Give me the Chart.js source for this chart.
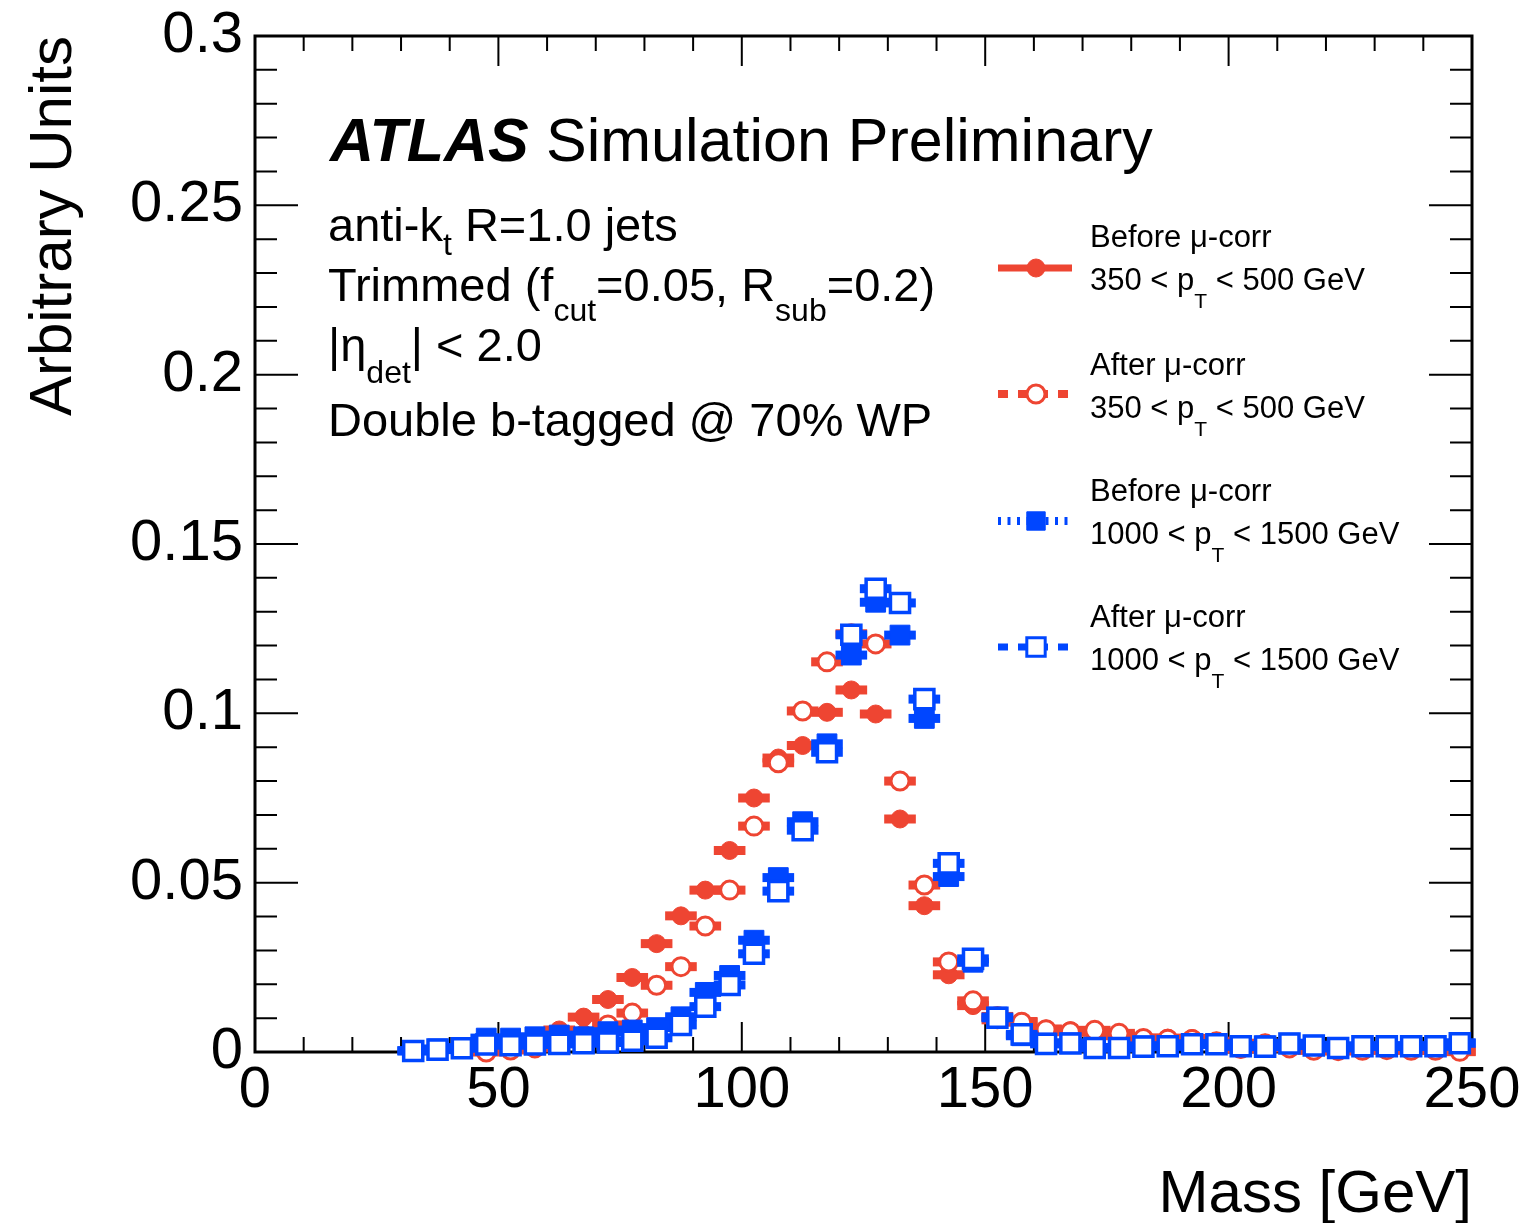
<!DOCTYPE html>
<html>
<head>
<meta charset="utf-8">
<script src="https://cdn.jsdelivr.net/npm/chart.js@4.4.1/dist/chart.umd.min.js"></script>
<style>
  html, body { margin: 0; padding: 0; background: #fff; }
  #wrap { position: relative; width: 1530px; height: 1223px; font-family: "Liberation Sans", Arial, sans-serif; color: #000; }
  #wrap canvas { position: absolute; left: 0; top: 0; }
  .t { position: absolute; white-space: nowrap; line-height: 1; }
  .sub { position: relative; }
</style>
</head>
<body>
<div id="wrap">
  <canvas id="massChart" width="1530" height="1223"></canvas>

  <div class="t" style="left:21px; top:536px; width:500px; text-align:right; font-size:60px; transform:rotate(-90deg); transform-origin:left top;">Arbitrary Units</div>
  <div class="t" style="left:972px; top:1162px; width:500px; text-align:right; font-size:60px;">Mass [GeV]</div>

  <div class="t" style="left:330px; top:110px; font-size:61px;"><b><i>ATLAS</i></b></div>
  <div class="t" style="left:546px; top:110px; font-size:61px;">Simulation Preliminary</div>
  <div class="t" style="left:328px; top:201px; font-size:47px;">anti-k<span class="sub" style="font-size:32px; top:14px;">t</span> R=1.0 jets</div>
  <div class="t" style="left:328px; top:261px; font-size:47px;">Trimmed (f<span class="sub" style="font-size:32px; top:20px;">cut</span>=0.05, R<span class="sub" style="font-size:32px; top:20px;">sub</span>=0.2)</div>
  <div class="t" style="left:328px; top:321px; font-size:47px;">|η<span class="sub" style="font-size:32px; top:22px;">det</span>| &lt; 2.0</div>
  <div class="t" style="left:328px; top:396px; font-size:47px;">Double b-tagged @ 70% WP</div>

  <div class="t" style="left:1090px; top:221px; font-size:31px;">Before μ-corr</div>
  <div class="t" style="left:1090px; top:264px; font-size:31px;">350 &lt; p<span class="sub" style="font-size:21px; top:18px;">T</span> &lt; 500 GeV</div>
  <div class="t" style="left:1090px; top:349px; font-size:31px;">After μ-corr</div>
  <div class="t" style="left:1090px; top:392px; font-size:31px;">350 &lt; p<span class="sub" style="font-size:21px; top:18px;">T</span> &lt; 500 GeV</div>
  <div class="t" style="left:1090px; top:475px; font-size:31px;">Before μ-corr</div>
  <div class="t" style="left:1090px; top:518px; font-size:31px;">1000 &lt; p<span class="sub" style="font-size:21px; top:18px;">T</span> &lt; 1500 GeV</div>
  <div class="t" style="left:1090px; top:601px; font-size:31px;">After μ-corr</div>
  <div class="t" style="left:1090px; top:644px; font-size:31px;">1000 &lt; p<span class="sub" style="font-size:21px; top:18px;">T</span> &lt; 1500 GeV</div>
</div>

<script>
// bin centres [GeV], 5 GeV bins
const massBins = [32.5, 37.5, 42.5, 47.5, 52.5, 57.5, 62.5, 67.5, 72.5, 77.5, 82.5, 87.5, 92.5, 97.5,
  102.5, 107.5, 112.5, 117.5, 122.5, 127.5, 132.5, 137.5, 142.5, 147.5, 152.5, 157.5, 162.5, 167.5,
  172.5, 177.5, 182.5, 187.5, 192.5, 197.5, 202.5, 207.5, 212.5, 217.5, 222.5, 227.5, 232.5, 237.5,
  242.5, 247.5];

// 350 < pT < 500 GeV, before mu-corr
const lowPtBefore = [null, null, null, 0.0002, 0.0018, 0.003, 0.0065, 0.0103, 0.0155, 0.022, 0.032,
  0.0402, 0.0478, 0.0595, 0.075, 0.0868, 0.0905, 0.1003, 0.1069, 0.0998, 0.0688, 0.0432, 0.0228,
  0.0137, 0.0095, 0.009, 0.0068, 0.0063, 0.0058, 0.0048, 0.0041, 0.0041, 0.004, 0.0032, 0.0009,
  0.0026, 0.0013, 0.0006, 0.0003, 0.0006, 0.0008, 0.0006, 0.0006, 0.0001];

// 350 < pT < 500 GeV, after mu-corr
const lowPtAfter = [null, null, null, 0.0, 0.0006, 0.0012, 0.003, 0.005, 0.008, 0.0115, 0.0197,
  0.0252, 0.0372, 0.0478, 0.0667, 0.0854, 0.1007, 0.1152, 0.1235, 0.1205, 0.080, 0.0493, 0.0266,
  0.0151, 0.0105, 0.0088, 0.0066, 0.006, 0.0064, 0.0055, 0.004, 0.0038, 0.0037, 0.003, 0.001,
  0.0024, 0.0012, 0.0005, 0.0004, 0.0005, 0.0007, 0.0005, 0.0005, 0.0002];

// 1000 < pT < 1500 GeV, before mu-corr
const highPtBefore = [0.0004, 0.0009, 0.0013, 0.0041, 0.0041, 0.0045, 0.005, 0.0045, 0.006, 0.0065,
  0.0072, 0.0104, 0.0176, 0.0226, 0.033, 0.0515, 0.068, 0.091, 0.1172, 0.1328, 0.1231, 0.0985,
  0.0518, 0.0265, 0.0103, 0.0048, 0.0026, 0.0027, 0.0013, 0.0013, 0.0018, 0.0018, 0.0024, 0.0024,
  0.0018, 0.0018, 0.0026, 0.002, 0.0013, 0.0018, 0.0018, 0.0018, 0.0018, 0.0027];

// 1000 < pT < 1500 GeV, after mu-corr
const highPtAfter = [0.0003, 0.0007, 0.0011, 0.0022, 0.002, 0.0022, 0.0024, 0.0026, 0.0028, 0.0033,
  0.0042, 0.008, 0.0134, 0.0198, 0.029, 0.0475, 0.0655, 0.0885, 0.1232, 0.1368, 0.1326, 0.1042,
  0.0557, 0.0275, 0.0101, 0.0052, 0.0024, 0.0025, 0.0012, 0.0012, 0.0016, 0.0017, 0.0023, 0.0023,
  0.0017, 0.0016, 0.0025, 0.0019, 0.0012, 0.0017, 0.0017, 0.0017, 0.0017, 0.0026];

const xTicks = [0, 50, 100, 150, 200, 250];
const yTicks = [0, 0.05, 0.1, 0.15, 0.2, 0.25, 0.3];

const RED = '#ee4532';
const BLUE = '#0046ff';
const FONT = '"Liberation Sans", Arial, sans-serif';

const toPoints = arr => massBins.map((m, i) => ({x: m, y: arr[i]})).filter(p => p.y !== null);

// horizontal bars (bin width) under each marker
const xErrHalf = 3.25;
const errorBars = {
  id: 'errorBars',
  beforeDatasetDraw(chart, args) {
    const ds = chart.data.datasets[args.index];
    const xs = chart.scales.x, ys = chart.scales.y;
    const ctx = chart.ctx;
    ctx.save();
    ctx.fillStyle = ds.borderColor;
    ds.data.forEach(p => {
      const x0 = xs.getPixelForValue(p.x - xErrHalf);
      const x1 = xs.getPixelForValue(p.x + xErrHalf);
      const y = ys.getPixelForValue(p.y);
      ctx.fillRect(x0, y - 4.5, x1 - x0, 9);
    });
    ctx.restore();
  }
};

// ROOT style frame with inner ticks
const frame = {
  id: 'frame',
  beforeDatasetsDraw(chart) {
    const {ctx, chartArea: a} = chart;
    const xs = chart.scales.x, ys = chart.scales.y;
    ctx.save();
    ctx.strokeStyle = '#000';
    ctx.lineWidth = 2;
    ctx.beginPath();
    for (let i = 0; i <= 25; i++) {
      const px = xs.getPixelForValue(i * 10);
      const len = i % 5 === 0 ? 30 : 15;
      ctx.moveTo(px, a.bottom); ctx.lineTo(px, a.bottom - len);
      ctx.moveTo(px, a.top); ctx.lineTo(px, a.top + len);
    }
    for (let i = 0; i <= 30; i++) {
      const py = ys.getPixelForValue(i / 100);
      const len = i % 5 === 0 ? 43 : 22;
      ctx.moveTo(a.left, py); ctx.lineTo(a.left + len, py);
      ctx.moveTo(a.right, py); ctx.lineTo(a.right - len, py);
    }
    ctx.stroke();
    ctx.lineWidth = 3;
    ctx.strokeRect(a.left, a.top, a.right - a.left, a.bottom - a.top);
    ctx.restore();
  }
};

// legend samples (text is HTML)
const legendRows = [
  {y: 268, color: RED, dash: [], lw: 7, style: 'circle', r: 9, fill: RED},
  {y: 394, color: RED, dash: [10, 10], lw: 8, style: 'circle', r: 9, fill: '#fff'},
  {y: 521, color: BLUE, dash: [3, 6.5], lw: 8, style: 'rect', r: 13, fill: BLUE},
  {y: 647, color: BLUE, dash: [10, 10], lw: 7, style: 'rect', r: 13, fill: '#fff'}
];
const legendSymbols = {
  id: 'legendSymbols',
  afterDraw(chart) {
    const ctx = chart.ctx;
    legendRows.forEach(row => {
      ctx.save();
      ctx.strokeStyle = row.color;
      ctx.lineWidth = row.lw;
      ctx.setLineDash(row.dash);
      ctx.beginPath();
      ctx.moveTo(998, row.y); ctx.lineTo(1072, row.y);
      ctx.stroke();
      ctx.setLineDash([]);
      ctx.fillStyle = row.fill;
      ctx.lineWidth = row.fill === '#fff' ? 3 : 1;
      Chart.helpers.drawPoint(ctx, {pointStyle: row.style, radius: row.r, borderWidth: ctx.lineWidth, rotation: 0}, 1036, row.y);
      ctx.restore();
    });
  }
};

const ctx = document.getElementById('massChart').getContext('2d');
new Chart(ctx, {
  type: 'scatter',
  data: {
    datasets: [
      {label: 'Before mu-corr 350<pT<500', data: toPoints(lowPtBefore), order: 4, pointStyle: 'circle',
        pointRadius: 9, borderWidth: 1, borderColor: RED, backgroundColor: RED, clip: false},
      {label: 'After mu-corr 350<pT<500', data: toPoints(lowPtAfter), order: 3, pointStyle: 'circle',
        pointRadius: 9, borderWidth: 3, borderColor: RED, backgroundColor: '#fff', clip: false},
      {label: 'Before mu-corr 1000<pT<1500', data: toPoints(highPtBefore), order: 2, pointStyle: 'rect',
        pointRadius: 14, borderWidth: 1, borderColor: BLUE, backgroundColor: BLUE, clip: false},
      {label: 'After mu-corr 1000<pT<1500', data: toPoints(highPtAfter), order: 1, pointStyle: 'rect',
        pointRadius: 13.5, borderWidth: 3.5, borderColor: BLUE, backgroundColor: '#fff', clip: false}
    ]
  },
  options: {
    responsive: false,
    animation: false,
    devicePixelRatio: 1,
    layout: {padding: {top: 36, right: 58, left: 0, bottom: 0}},
    plugins: {legend: {display: false}, tooltip: {enabled: false}},
    elements: {point: {hoverRadius: 9}},
    scales: {
      x: {
        type: 'linear', min: 0, max: 250,
        afterBuildTicks: s => { s.ticks = xTicks.map(v => ({value: v})); },
        afterFit: s => { s.height = 171; s.paddingLeft = 0; s.paddingRight = 0; },
        grid: {display: false, drawTicks: false},
        border: {display: false},
        ticks: {font: {family: FONT, size: 58}, color: '#000', padding: 4, maxRotation: 0, autoSkip: false}
      },
      y: {
        type: 'linear', min: 0, max: 0.3,
        afterBuildTicks: s => { s.ticks = yTicks.map(v => ({value: v})); },
        afterFit: s => { s.width = 255; s.paddingTop = 0; s.paddingBottom = 0; },
        grid: {display: false, drawTicks: false},
        border: {display: false},
        ticks: {font: {family: FONT, size: 58}, color: '#000', padding: 12, autoSkip: false,
          callback: v => String(+v.toFixed(2))}
      }
    }
  },
  plugins: [errorBars, frame, legendSymbols]
});
</script>
</body>
</html>
